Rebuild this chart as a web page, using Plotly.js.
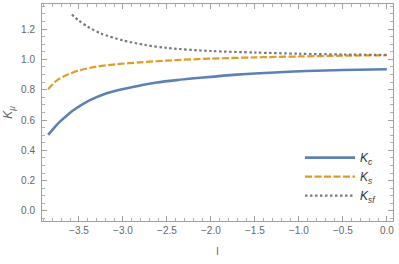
<!DOCTYPE html>
<html>
<head>
<meta charset="utf-8">
<script src="https://cdn.plot.ly/plotly-3.0.1.min.js"></script>
<style>html,body{margin:0;padding:0;background:#fff;}#chart{width:399px;height:264px;}</style>
</head>
<body>
<div id="chart"></div>
<script>
var kcX = [-3.85, -3.78, -3.716, -3.64, -3.564, -3.47, -3.375, -3.185, -2.996, -2.807, -2.617, -2.39, -2.087, -1.708, -1.33, -0.913, -0.5, 0.0];
var kcY = [0.502, 0.55, 0.589, 0.628, 0.664, 0.70, 0.731, 0.777, 0.805, 0.827, 0.847, 0.863, 0.880, 0.899, 0.912, 0.923, 0.930, 0.935];
var ksX = [-3.85, -3.8, -3.75, -3.64, -3.49, -3.30, -3.07, -2.81, -2.5, -2.0, -1.5, -1.0, -0.5, 0.0];
var ksY = [0.803, 0.836, 0.862, 0.897, 0.928, 0.952, 0.968, 0.980, 0.992, 1.005, 1.013, 1.019, 1.024, 1.027];
var ksfX = [-3.58, -3.5, -3.4, -3.25, -3.0, -2.75, -2.5, -2.0, -1.5, -1.0, -0.5, 0.0];
var ksfY = [1.296, 1.255, 1.215, 1.17, 1.125, 1.095, 1.075, 1.055, 1.045, 1.037, 1.032, 1.029];
var seriesNames = ['<i>K<sub>c</sub></i>', '<i>K<sub>s</sub></i>', '<i>K<sub>sf</sub></i>'];

var traces = [
  {x: kcX, y: kcY, name: seriesNames[0], mode: 'lines', line: {color: '#5E81B5', width: 2.6, shape: 'spline', smoothing: 0.8}},
  {x: ksX, y: ksY, name: seriesNames[1], mode: 'lines', line: {color: '#E19C24', width: 2.2, dash: '7px,2.5px', shape: 'spline', smoothing: 0.8}},
  {x: ksfX, y: ksfY, name: seriesNames[2], mode: 'lines', line: {color: '#7a7a7a', width: 2.2, dash: '2.5px,2.5px', shape: 'spline', smoothing: 0.8}}
];

var axisCommon = {
  showgrid: false, zeroline: false, showline: true, linecolor: '#a0a0a0', linewidth: 1,
  mirror: 'ticks', ticks: 'inside', ticklen: 5, tickcolor: '#a0a0a0', tickwidth: 1,
  tickfont: {family: 'Liberation Sans, Arial, sans-serif', size: 10, color: '#666'},
  tickformat: '.1f'
};

var layout = {
  width: 399, height: 264,
  margin: {l: 42, r: 6, t: 4, b: 43},
  paper_bgcolor: '#fff', plot_bgcolor: '#fff',
  showlegend: true,
  legend: {x: 0.735, y: 0.05, xanchor: 'left', yanchor: 'bottom', bgcolor: 'rgba(0,0,0,0)',
           font: {family: 'Liberation Sans, Arial, sans-serif', size: 12, color: '#333'}, itemwidth: 50, tracegroupgap: 0},
  xaxis: Object.assign({}, axisCommon, {
    range: [-3.92, 0.07], dtick: 0.5, tick0: 0,
    minor: {dtick: 0.1, ticks: 'inside', ticklen: 3, tickcolor: '#b0b0b0'},
    title: {text: 'l', font: {family: 'Liberation Sans, Arial, sans-serif', size: 11, color: '#666'}, standoff: 12}
  }),
  yaxis: Object.assign({}, axisCommon, {
    range: [-0.066, 1.365], dtick: 0.2, tick0: 0,
    minor: {dtick: 0.05, ticks: 'inside', ticklen: 3, tickcolor: '#b0b0b0'},
    ticklabelstandoff: 4,
    title: {text: '<i>K<sub>μ</sub></i>', font: {family: 'Liberation Sans, Arial, sans-serif', size: 12, color: '#666'}, standoff: 5}
  })
};

Plotly.newPlot('chart', traces, layout, {displayModeBar: false, staticPlot: true});
</script>
</body>
</html>
